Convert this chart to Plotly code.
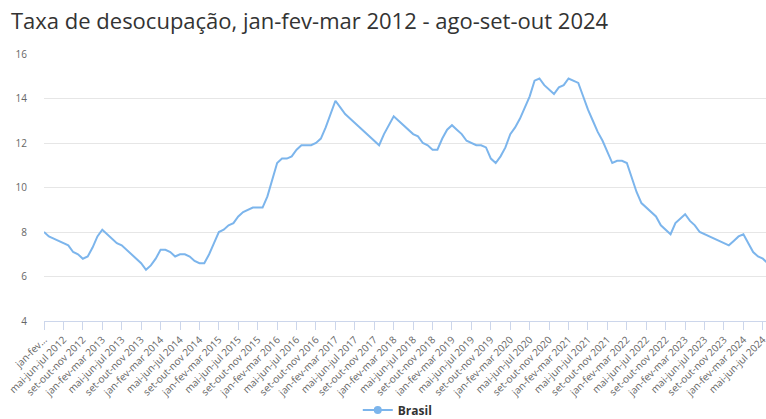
import plotly.graph_objects as go

months = ["jan", "fev", "mar", "abr", "mai", "jun", "jul", "ago", "set", "out", "nov", "dez"]

# Rolling quarters from jan-fev-mar 2012 to ago-set-out 2024
categories = []
for year in range(2012, 2025):
    for m in range(12):
        end = m  # index of last month of quarter
        if year == 2012 and end < 2:
            continue
        if year == 2024 and end > 9:
            continue
        a, b, c = months[(end - 2) % 12], months[(end - 1) % 12], months[end]
        categories.append(f"{a}-{b}-{c} {year}")

taxa = [
    # 2012 (mar..dez)
    8.0, 7.8, 7.7, 7.6, 7.5, 7.4, 7.1, 7.0, 6.8, 6.9,
    # 2013
    7.3, 7.8, 8.1, 7.9, 7.7, 7.5, 7.4, 7.2, 7.0, 6.8, 6.6, 6.3,
    # 2014
    6.5, 6.8, 7.2, 7.2, 7.1, 6.9, 7.0, 7.0, 6.9, 6.7, 6.6, 6.6,
    # 2015
    7.0, 7.5, 8.0, 8.1, 8.3, 8.4, 8.7, 8.9, 9.0, 9.1, 9.1, 9.1,
    # 2016
    9.6, 10.3, 11.1, 11.3, 11.3, 11.4, 11.7, 11.9, 11.9, 11.9, 12.0, 12.2,
    # 2017
    12.7, 13.3, 13.9, 13.6, 13.3, 13.1, 12.9, 12.7, 12.5, 12.3, 12.1, 11.9,
    # 2018
    12.4, 12.8, 13.2, 13.0, 12.8, 12.6, 12.4, 12.3, 12.0, 11.9, 11.7, 11.7,
    # 2019
    12.2, 12.6, 12.8, 12.6, 12.4, 12.1, 12.0, 11.9, 11.9, 11.8, 11.3, 11.1,
    # 2020
    11.4, 11.8, 12.4, 12.7, 13.1, 13.6, 14.1, 14.8, 14.9, 14.6, 14.4, 14.2,
    # 2021
    14.5, 14.6, 14.9, 14.8, 14.7, 14.1, 13.5, 13.0, 12.5, 12.1, 11.6, 11.1,
    # 2022
    11.2, 11.2, 11.1, 10.5, 9.8, 9.3, 9.1, 8.9, 8.7, 8.3, 8.1, 7.9,
    # 2023
    8.4, 8.6, 8.8, 8.5, 8.3, 8.0, 7.9, 7.8, 7.7, 7.6, 7.5, 7.4,
    # 2024 (jan..out)
    7.6, 7.8, 7.9, 7.5, 7.1, 6.9, 6.8, 6.6, 6.4, 6.2,
]

tick_vals = categories[::4]
tick_text = list(tick_vals)
tick_text[0] = "jan-fev..."

y_ticks = [4, 6, 8, 10, 12, 14, 16]

FONT = "Open Sans, sans-serif"
LINE_COLOR = "#7cb5ec"

fig = go.Figure()
fig.add_trace(go.Scatter(
    x=categories, y=taxa, mode="lines", name="Brasil",
    line=dict(color=LINE_COLOR, width=2), showlegend=False,
    hoverinfo="x+y",
))
fig.add_trace(go.Scatter(
    x=[None], y=[None], mode="lines+markers", name="Brasil",
    line=dict(color=LINE_COLOR, width=2),
    marker=dict(color=LINE_COLOR, size=8),
))

fig.update_layout(
    width=766, height=419,
    margin=dict(l=44, r=0, t=54, b=98, autoexpand=False),
    paper_bgcolor="white", plot_bgcolor="white",
    font=dict(family=FONT, color="#666666", size=10),
    title=dict(
        text="Taxa de desocupação, jan-fev-mar 2012 - ago-set-out 2024",
        font=dict(family=FONT, size=22, color="#333333"),
        x=11 / 766, xref="container", xanchor="left",
        y=1 - 21 / 419, yref="container", yanchor="middle",
    ),
    legend=dict(
        orientation="h", x=0.49, xanchor="center",
        y=(419 - 410) / 419, yref="container", yanchor="middle",
        font=dict(family=FONT, size=12, color="#333333", weight="bold"),
        itemwidth=30,
    ),
    showlegend=True,
)

fig.update_xaxes(
    type="category",
    categoryorder="array", categoryarray=categories,
    range=[0, 148.65],
    tickmode="array", tickvals=tick_vals, ticktext=tick_text,
    tickangle=-45, automargin=False,
    ticks="outside", ticklen=8, tickcolor="#ccd6eb",
    showline=True, linecolor="#ccd6eb", linewidth=1,
    showgrid=False, zeroline=False,
    tickfont=dict(family=FONT, size=10, color="#666666"),
)
fig.update_yaxes(
    range=[4, 16], tickmode="array", tickvals=y_ticks,
    automargin=False,
    showgrid=True, gridcolor="#e6e6e6", gridwidth=1,
    zeroline=False, showline=False, ticks="",
    ticklabelstandoff=16,
    tickfont=dict(family=FONT, size=10, color="#666666"),
)

fig.write_html("out.html")
